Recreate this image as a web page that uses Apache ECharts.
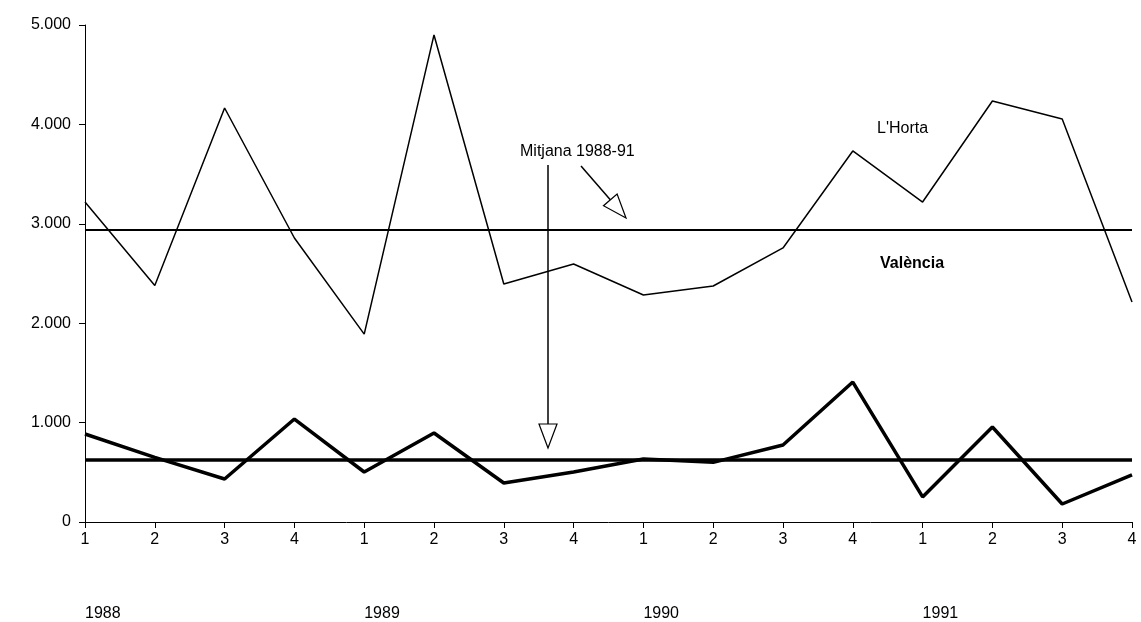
<!DOCTYPE html>
<html>
<head>
<meta charset="utf-8">
<script src="https://cdn.jsdelivr.net/npm/echarts@6/dist/echarts.min.js"></script>
<style>
  html, body { margin: 0; padding: 0; background: #fff; }
  #chart { width: 1141px; height: 622px; }
</style>
</head>
<body>
<div id="chart"></div>
<script>
const trimestres = ["1", "2", "3", "4", "1", "2", "3", "4", "1", "2", "3", "4", "1", "2", "3", "4"];
const anys = ["1988", "", "", "", "1989", "", "", "", "1990", "", "", "", "1991", "", "", ""];
const horta = [3220, 2380, 4165, 2857, 1890, 4900, 2394, 2596, 2284, 2374, 2757, 3733, 3219, 4235, 4054, 2213];
const valencia = [885, 650, 433, 1036, 503, 895, 392, 503, 634, 600, 775, 1408, 252, 956, 181, 473];
const mitjanaHorta = 2945;
const mitjanaValencia = 624;

function dibuixar() {
  const chart = echarts.init(document.getElementById("chart"));
  const font = "Liberation Sans, Arial, sans-serif";

  const fletxa = (x1, y1, x2, y2) => {
    // linia + punta oberta
    const a = Math.atan2(y2 - y1, x2 - x1);
    const L = 24, W = 9;
    const bx = x2 - L * Math.cos(a), by = y2 - L * Math.sin(a);
    const px = -Math.sin(a) * W, py = Math.cos(a) * W;
    return [
      { type: "line", shape: { x1, y1, x2: bx, y2: by }, style: { stroke: "#000", lineWidth: 1.5 } },
      { type: "polygon", shape: { points: [[x2, y2], [bx + px, by + py], [bx - px, by - py]] },
        style: { fill: "#fff", stroke: "#000", lineWidth: 1.2 } }
    ];
  };

  const option = {
    animation: false,
    grid: { left: 85, right: 9, top: 25, bottom: 100, containLabel: false, outerBoundsMode: "none" },
    xAxis: [{
      type: "category",
      data: trimestres,
      boundaryGap: false,
      axisLine: { lineStyle: { color: "#000", width: 1 } },
      axisTick: { length: 6, lineStyle: { color: "#000" } },
      axisLabel: { interval: 0, color: "#000", fontSize: 16, fontFamily: font, margin: 10 }
    }, {
      type: "category",
      data: anys,
      boundaryGap: false,
      position: "bottom",
      offset: 74,
      axisLine: { show: false },
      axisTick: { show: false },
      axisLabel: { interval: 0, color: "#000", fontSize: 16, fontFamily: font, align: "left", margin: 10 }
    }],
    yAxis: {
      type: "value",
      min: 0, max: 5000, interval: 1000,
      splitLine: { show: false },
      axisLine: { show: true, lineStyle: { color: "#000", width: 1 } },
      axisTick: { show: true, length: 6, lineStyle: { color: "#000" } },
      axisLabel: {
        color: "#000", fontSize: 16, fontFamily: font, margin: 14,
        formatter: v => v === 0 ? "0" : (v / 1000).toFixed(3)
      }
    },
    series: [{
      type: "line",
      data: horta,
      symbol: "none",
      lineStyle: { color: "#000", width: 1.5 },
      markLine: {
        silent: true, symbol: "none", label: { show: false },
        lineStyle: { color: "#000", width: 2, type: "solid" },
        data: [{ yAxis: mitjanaHorta }]
      }
    }, {
      type: "line",
      data: valencia,
      symbol: "none",
      lineStyle: { color: "#000", width: 3.5 },
      markLine: {
        silent: true, symbol: "none", label: { show: false },
        lineStyle: { color: "#000", width: 3.5, type: "solid" },
        data: [{ yAxis: mitjanaValencia }]
      }
    }],
    graphic: [
      { type: "text", left: 877, top: 121, style: { text: "L'Horta", fill: "#000", font: "16px " + font } },
      { type: "text", left: 880, top: 256, style: { text: "València", fill: "#000", font: "bold 16px " + font } },
      { type: "text", left: 520, top: 144, style: { text: "Mitjana 1988-91", fill: "#000", font: "16px " + font } },
      ...fletxa(548, 165, 548, 448),
      ...fletxa(581, 166, 626, 218)
    ]
  };

  chart.setOption(option);
  window.addEventListener("resize", () => chart.resize());
}

document.addEventListener("DOMContentLoaded", dibuixar);
</script>
</body>
</html>
